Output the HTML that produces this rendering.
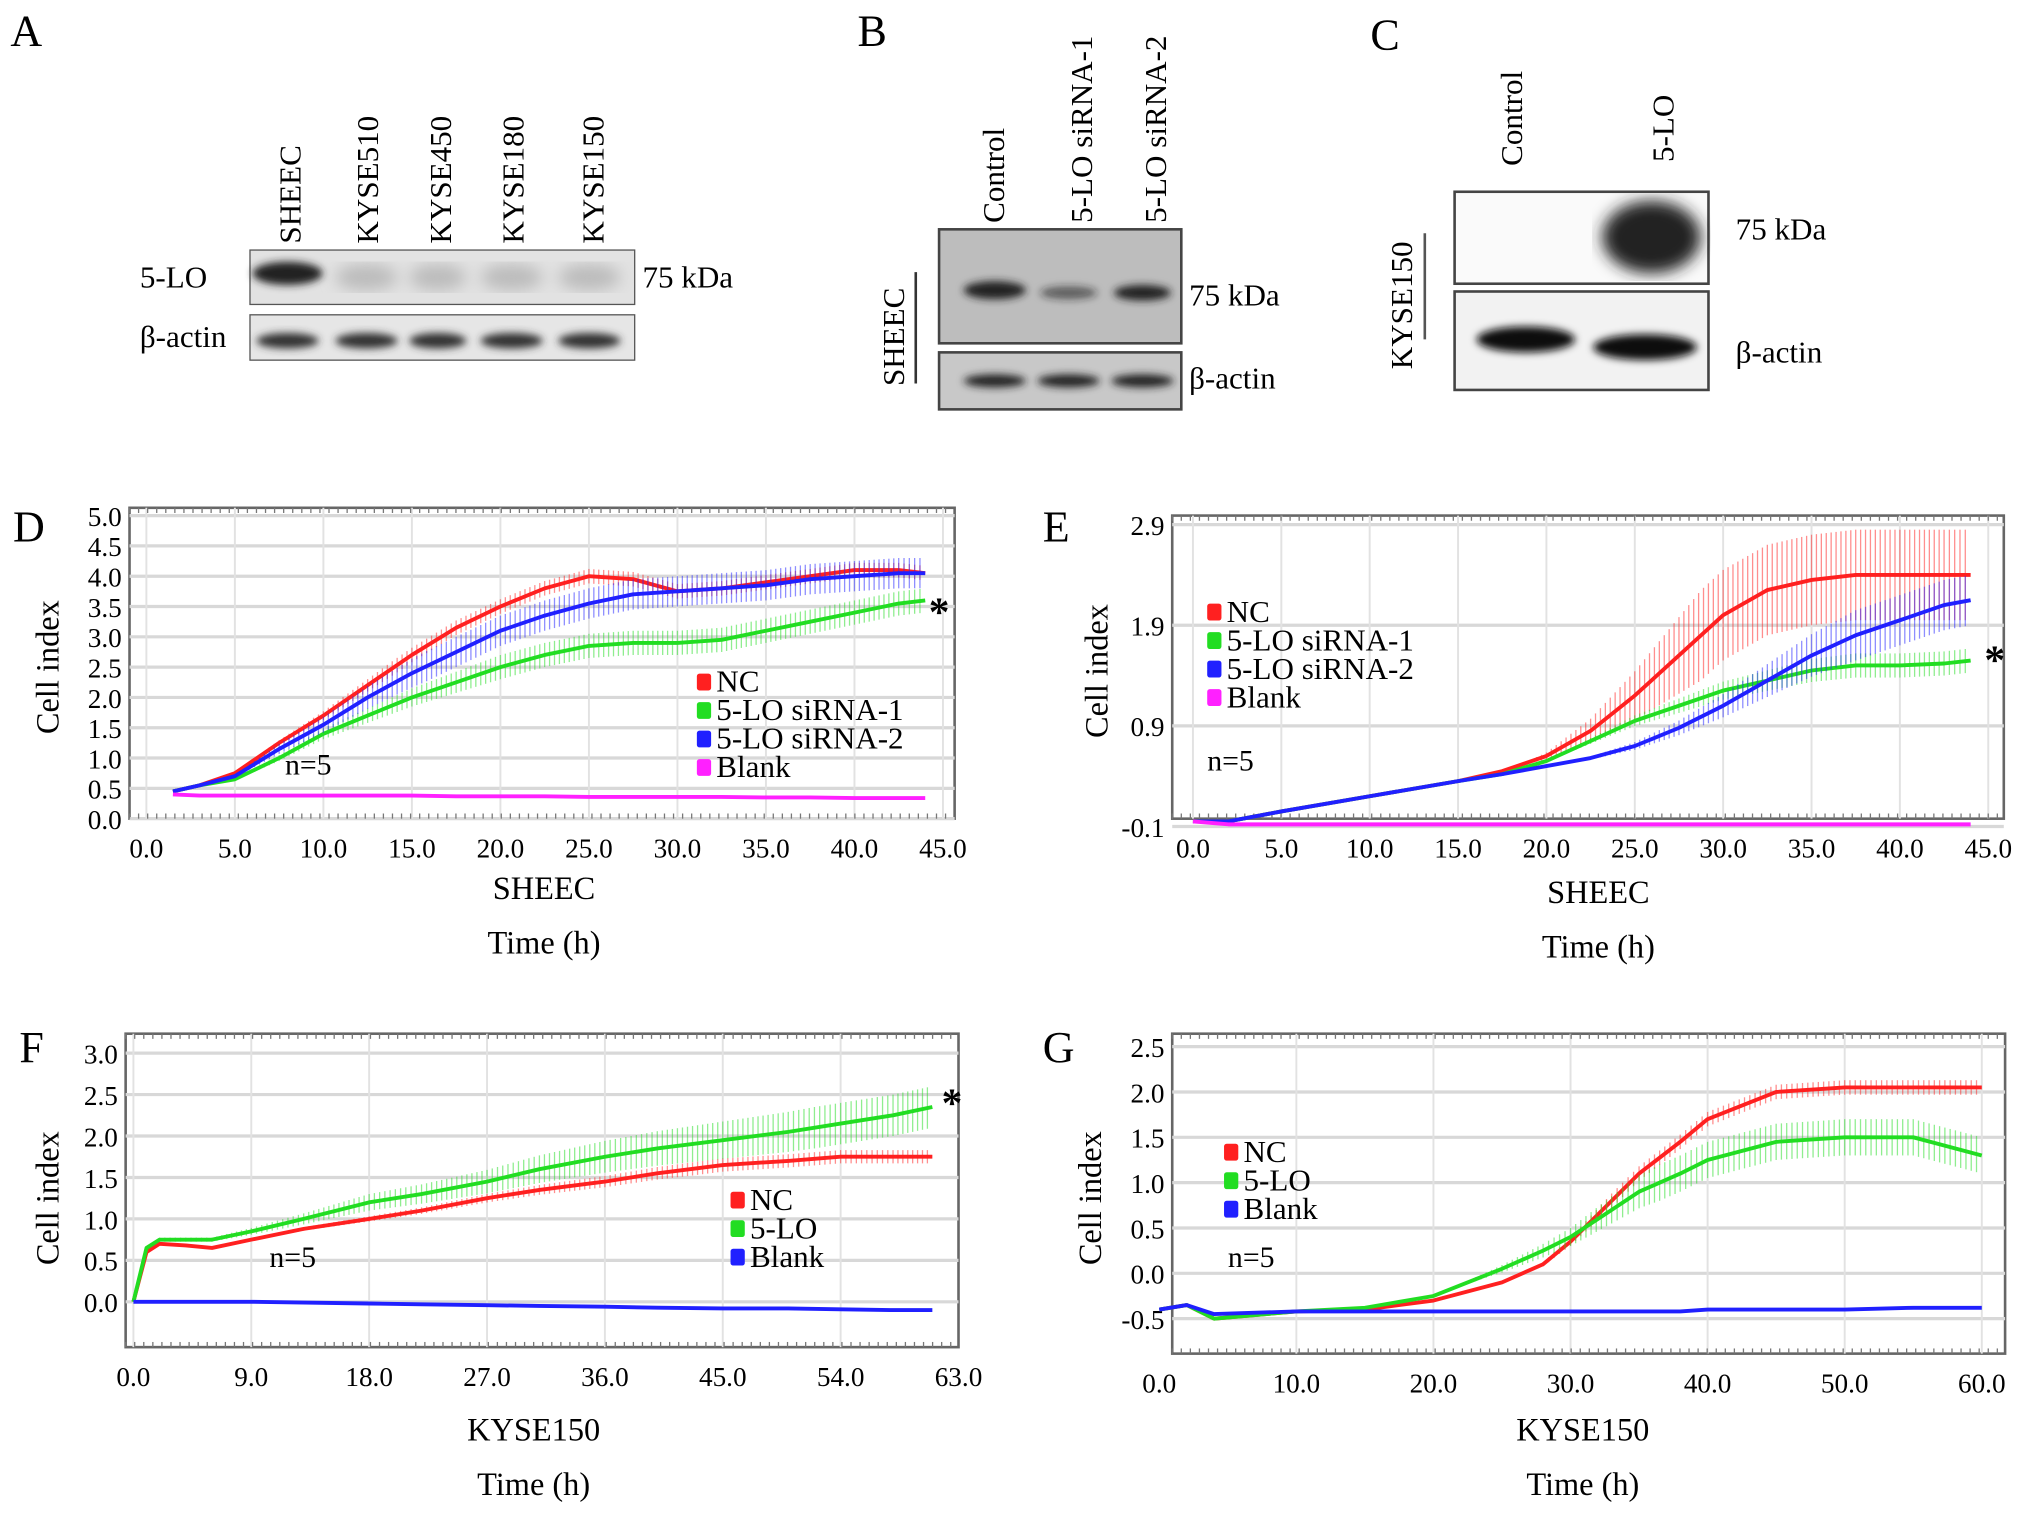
<!DOCTYPE html>
<html><head><meta charset="utf-8"><style>
html,body{margin:0;padding:0;background:#fff;}
svg{display:block;font-family:"Liberation Serif",serif;}
</style></head><body>
<svg id="fig" width="2031" height="1513" viewBox="0 0 1568 1168" xmlns="http://www.w3.org/2000/svg">
<defs>
<filter id="blur" x="-20%" y="-50%" width="140%" height="200%"><feGaussianBlur stdDeviation="3"/></filter>
<filter id="blur2"><feGaussianBlur stdDeviation="6"/></filter>
</defs>
<!-- Panel A -->
<g>
<text x="8" y="35" font-size="34">A</text>
<g font-size="24">
<text transform="translate(232,188) rotate(-90)">SHEEC</text>
<text transform="translate(292,188) rotate(-90)">KYSE510</text>
<text transform="translate(348,188) rotate(-90)">KYSE450</text>
<text transform="translate(404,188) rotate(-90)">KYSE180</text>
<text transform="translate(466,188) rotate(-90)">KYSE150</text>
<text x="108" y="222">5-LO</text>
<text x="108" y="268">β-actin</text>
<text x="496" y="222">75 kDa</text>
</g>
<rect x="193" y="193" width="297" height="42" fill="#e2e2e2" stroke="#555"/>
<rect x="193" y="243" width="297" height="35" fill="#e6e6e6" stroke="#555"/>
<ellipse cx="222" cy="211" rx="27" ry="9" fill="#222" filter="url(#blur)"/>
<g fill="#bbb" filter="url(#blur2)"><ellipse cx="283" cy="214" rx="24" ry="10"/><ellipse cx="338" cy="214" rx="22" ry="10"/><ellipse cx="395" cy="214" rx="24" ry="10"/><ellipse cx="455" cy="214" rx="24" ry="10"/></g>
<g fill="#333" filter="url(#blur)">
<ellipse cx="222" cy="263" rx="24" ry="6"/><ellipse cx="283" cy="263" rx="24" ry="6"/><ellipse cx="338" cy="263" rx="22" ry="6"/><ellipse cx="395" cy="263" rx="24" ry="6"/><ellipse cx="455" cy="263" rx="24" ry="6"/>
</g>
</g>
<!-- Panel B -->
<g>
<text x="662" y="35" font-size="34">B</text>
<g font-size="24">
<text transform="translate(775,172) rotate(-90)">Control</text>
<text transform="translate(843,172) rotate(-90)">5-LO siRNA-1</text>
<text transform="translate(900,172) rotate(-90)">5-LO siRNA-2</text>
<text transform="translate(698,298) rotate(-90)">SHEEC</text>
<text x="918" y="236">75 kDa</text>
<text x="918" y="300">β-actin</text>
</g>
<line x1="707" y1="210" x2="707" y2="296" stroke="#333" stroke-width="2"/>
<rect x="725" y="177" width="187" height="88" fill="#bdbdbd" stroke="#444" stroke-width="2"/>
<rect x="725" y="272" width="187" height="44" fill="#c8c8c8" stroke="#444" stroke-width="2"/>
<g fill="#222" filter="url(#blur)"><ellipse cx="768" cy="224" rx="24" ry="7"/><ellipse cx="825" cy="226" rx="22" ry="5" opacity=".6"/><ellipse cx="882" cy="226" rx="22" ry="6"/>
<ellipse cx="768" cy="294" rx="24" ry="5"/><ellipse cx="825" cy="294" rx="24" ry="5"/><ellipse cx="882" cy="294" rx="24" ry="5"/></g>
</g>
<!-- Panel C -->
<g>
<text x="1058" y="38" font-size="34">C</text>
<g font-size="24">
<text transform="translate(1175,128) rotate(-90)">Control</text>
<text transform="translate(1292,125) rotate(-90)">5-LO</text>
<text transform="translate(1090,285) rotate(-90)">KYSE150</text>
<text x="1340" y="185">75 kDa</text>
<text x="1340" y="280">β-actin</text>
</g>
<line x1="1100" y1="180" x2="1100" y2="262" stroke="#555" stroke-width="2"/>
<rect x="1123" y="148" width="196" height="71" fill="#fafafa" stroke="#444" stroke-width="2"/>
<rect x="1123" y="225" width="196" height="76" fill="#f2f2f2" stroke="#444" stroke-width="2"/>
<ellipse cx="1275" cy="183" rx="38" ry="28" fill="#222" filter="url(#blur2)"/>
<g fill="#111" filter="url(#blur)"><ellipse cx="1178" cy="262" rx="38" ry="10"/><ellipse cx="1270" cy="268" rx="40" ry="10"/></g>
</g>
<g id="charts"></g>
</svg>
<script>
// ---------- Panel D data ----------
const dTimes = [1.5, 3, 5, 7.5, 10, 12.5, 15, 17.5, 20, 22.5, 25, 27.5, 30, 32.5, 35, 37.5, 40, 42.5, 44];
const dNC    = [0.45,0.55,0.75,1.25,1.7,2.2,2.7,3.15,3.5,3.8,4.0,3.95,3.75,3.8,3.9,4.0,4.1,4.1,4.05];
const dSi1   = [0.45,0.55,0.65,1.0,1.4,1.7,2.0,2.25,2.5,2.7,2.85,2.9,2.9,2.95,3.1,3.25,3.4,3.55,3.6];
const dSi2   = [0.45,0.55,0.7,1.15,1.55,2.0,2.4,2.75,3.1,3.35,3.55,3.7,3.75,3.8,3.85,3.95,4.0,4.05,4.05];
const dBlank = [0.4,0.38,0.38,0.38,0.38,0.38,0.38,0.37,0.37,0.37,0.36,0.36,0.36,0.36,0.35,0.35,0.34,0.34,0.34];
const dYTicks = ["0.0","0.5","1.0","1.5","2.0","2.5","3.0","3.5","4.0","4.5","5.0"];
const dXTicks = ["0.0","5.0","10.0","15.0","20.0","25.0","30.0","35.0","40.0","45.0"];
// ---------- Panel E data ----------
const eTimes = [0, 2, 5, 10, 15, 17.5, 20, 22.5, 25, 27.5, 30, 32.5, 35, 37.5, 40, 42.5, 44];
const eNC    = [-0.05,-0.05,0.05,0.2,0.35,0.45,0.6,0.85,1.2,1.6,2.0,2.25,2.35,2.4,2.4,2.4,2.4];
const eSi1   = [-0.05,-0.05,0.05,0.2,0.35,0.42,0.55,0.75,0.95,1.1,1.25,1.35,1.45,1.5,1.5,1.52,1.55];
const eSi2   = [-0.05,-0.05,0.05,0.2,0.35,0.42,0.5,0.58,0.7,0.88,1.1,1.35,1.6,1.8,1.95,2.1,2.15];
const eBlank = [-0.05,-0.08,-0.08,-0.08,-0.08,-0.08,-0.08,-0.08,-0.08,-0.08,-0.08,-0.08,-0.08,-0.08,-0.08,-0.08,-0.08];
const eYTicks = ["-0.1","0.9","1.9","2.9"];
const eXTicks = ["0.0","5.0","10.0","15.0","20.0","25.0","30.0","35.0","40.0","45.0"];
// ---------- Panel F data ----------
const fTimes = [0, 1, 2, 4, 6, 9, 13, 18, 22, 27, 31, 36, 40, 45, 50, 54, 58, 61];
const fNC    = [0,0.6,0.7,0.68,0.65,0.75,0.88,1.0,1.1,1.25,1.35,1.45,1.55,1.65,1.7,1.75,1.75,1.75];
const fLO    = [0,0.65,0.75,0.75,0.75,0.85,1.0,1.2,1.3,1.45,1.6,1.75,1.85,1.95,2.05,2.15,2.25,2.35];
const fBlank = [0,0,0,0,0,0,-0.01,-0.02,-0.03,-0.04,-0.05,-0.06,-0.07,-0.08,-0.08,-0.09,-0.1,-0.1];
const fYTicks = ["0.0","0.5","1.0","1.5","2.0","2.5","3.0"];
const fXTicks = ["0.0","9.0","18.0","27.0","36.0","45.0","54.0","63.0"];
// ---------- Panel G data ----------
const gTimes = [0, 2, 4, 10, 15, 20, 25, 28, 30, 33, 35, 38, 40, 45, 50, 55, 60];
const gNC    = [-0.4,-0.35,-0.5,-0.42,-0.4,-0.3,-0.1,0.1,0.35,0.8,1.1,1.45,1.7,2.0,2.05,2.05,2.05];
const gLO    = [-0.4,-0.35,-0.5,-0.42,-0.38,-0.25,0.05,0.25,0.4,0.7,0.9,1.1,1.25,1.45,1.5,1.5,1.3];
const gBlank = [-0.4,-0.35,-0.45,-0.42,-0.42,-0.42,-0.42,-0.42,-0.42,-0.42,-0.42,-0.42,-0.4,-0.4,-0.4,-0.38,-0.38];
const gYTicks = ["-0.5","0.0","0.5","1.0","1.5","2.0","2.5"];
const gXTicks = ["0.0","10.0","20.0","30.0","40.0","50.0","60.0"];

const NS = "http://www.w3.org/2000/svg";
const root = document.getElementById("charts");
function mk(tag, attrs, parent){const e=document.createElementNS(NS,tag);for(const k in attrs)e.setAttribute(k,attrs[k]);(parent||root).appendChild(e);return e;}

function chart(cfg){
  const g = mk("g",{});
  
  
  const sx = t => cfg.x0 + (t - cfg.xmin) / (cfg.xmax - cfg.xmin) * (cfg.x1 - cfg.x0);
  const sy = v => cfg.y0 + (v - cfg.ymin) / (cfg.ymax - cfg.ymin) * (cfg.y1 - cfg.y0);
  mk("rect",{x:cfg.bx0,y:cfg.by0,width:cfg.bx1-cfg.bx0,height:cfg.by1-cfg.by0,fill:"#fff",stroke:"#666","stroke-width":2},g);
  cfg.yt.forEach(s=>{const y=sy(parseFloat(s));
    const gl=mk("line",{x1:cfg.bx0,x2:cfg.bx1,y1:y,y2:y,stroke:"#d8d8d8","stroke-width":2.5},g);
    
    const t=mk("text",{x:cfg.bx0-6,y:y+8,"text-anchor":"end","font-size":21},g);t.textContent=s;
    
  });
  cfg.xt.forEach(s=>{const x=sx(parseFloat(s));
    if(x>cfg.bx0+3&&x<cfg.bx1-3){mk("line",{x1:x,x2:x,y1:cfg.by0,y2:cfg.by1,stroke:"#e2e2e2","stroke-width":1.5},g);}
    const t=mk("text",{x:x,y:cfg.by1+30,"text-anchor":"middle","font-size":21},g);t.textContent=s;
    
  });
  for(let x=cfg.bx0;x<cfg.bx1;x+=7){mk("line",{x1:x,x2:x,y1:cfg.by1,y2:cfg.by1-4,stroke:"#777","stroke-width":1},g);mk("line",{x1:x,x2:x,y1:cfg.by0,y2:cfg.by0+4,stroke:"#777","stroke-width":1},g);}
  cfg.series.forEach(s=>{
    const sg=mk("g",{},g);
    
    
    if(s.err){
      for(let i=0;i<cfg.times.length-1;i++){
        const n=Math.max(2,Math.round((sx(cfg.times[i+1])-sx(cfg.times[i]))/4));
        for(let k=0;k<n;k++){
          const f=k/n, t=cfg.times[i]+(cfg.times[i+1]-cfg.times[i])*f, v=s.vals[i]+(s.vals[i+1]-s.vals[i])*f;
          const e=s.err*Math.min(1,Math.max(0,v-cfg.errBase)/s.errScale);
          if(e<0.02)continue;
          mk("line",{x1:sx(t),x2:sx(t),y1:sy(v-e),y2:sy(v+e),stroke:s.color,"stroke-width":1,opacity:0.5},sg);
        }
      }
    }
    const pts=cfg.times.map((t,i)=>sx(t).toFixed(1)+","+sy(s.vals[i]).toFixed(1)).join(" ");
    mk("polyline",{points:pts,fill:"none",stroke:s.color,"stroke-width":3,"stroke-linejoin":"round"},sg);
  });
  cfg.legend.items.forEach((it,i)=>{
    const y=cfg.legend.y+i*cfg.legend.dy;
    const r=mk("rect",{x:cfg.legend.x,y:y-12,width:11,height:13,fill:it[1],rx:2},g);
    
    const t=mk("text",{x:cfg.legend.x+15,y:y+2,"font-size":24},g);t.textContent=it[0];
    
  });
  const n=mk("text",{x:cfg.n[0],y:cfg.n[1],"font-size":23},g);n.textContent="n=5";
  
  if(cfg.star){const st=mk("text",{x:cfg.star[0],y:cfg.star[1],"font-size":32,"font-weight":"bold"},g);st.textContent="*";
    }
  const yl=mk("text",{transform:`translate(${cfg.ylab[0]},${cfg.ylab[1]}) rotate(-90)`,"text-anchor":"middle","font-size":25},g);yl.textContent="Cell index";
  
  const cl=mk("text",{x:cfg.cell[0],y:cfg.cell[1],"text-anchor":"middle","font-size":25},g);cl.textContent=cfg.cellName;
  
  const xl=mk("text",{x:cfg.cell[0],y:cfg.cell[1]+42,"text-anchor":"middle","font-size":25},g);xl.textContent="Time (h)";
  
  const pl=mk("text",{x:cfg.plabel[0],y:cfg.plabel[1],"font-size":34},g);pl.textContent=cfg.letter;
  
}

chart({name:"chart-d",letter:"D",plabel:[10,418],times:dTimes,xmin:0,xmax:45,x0:113,x1:728,ymin:0,ymax:5,y0:632,y1:398,
  bx0:100,bx1:737,by0:392,by1:632,yt:dYTicks,xt:dXTicks,errBase:0.5,
  series:[{name:"series-nc",vals:dNC,color:"#ff2020",err:0.12,errScale:2},
          {name:"series-sirna-1",vals:dSi1,color:"#22dd22",err:0.2,errScale:2},
          {name:"series-sirna-2",vals:dSi2,color:"#2020ff",err:0.25,errScale:2},
          {name:"series-blank",vals:dBlank,color:"#ff20ff"}],
  legend:{x:538,y:532,dy:22,items:[["NC","#ff2020"],["5-LO siRNA-1","#22dd22"],["5-LO siRNA-2","#2020ff"],["Blank","#ff20ff"]]},
  n:[220,598],star:[717,483],ylab:[45,515],cell:[420,694],cellName:"SHEEC"});

chart({name:"chart-e",letter:"E",plabel:[805,418],times:eTimes,xmin:0,xmax:45,x0:921,x1:1535,ymin:-0.1,ymax:2.9,y0:638,y1:405,
  bx0:905,bx1:1547,by0:398,by1:632,yt:eYTicks,xt:eXTicks,errBase:0.5,
  series:[{name:"series-nc",vals:eNC,color:"#ff2020",err:0.45,errScale:1.3},
          {name:"series-sirna-1",vals:eSi1,color:"#22dd22",err:0.12,errScale:1},
          {name:"series-sirna-2",vals:eSi2,color:"#2020ff",err:0.25,errScale:1.3},
          {name:"series-blank",vals:eBlank,color:"#ff20ff"}],
  legend:{x:932,y:478,dy:22,items:[["NC","#ff2020"],["5-LO siRNA-1","#22dd22"],["5-LO siRNA-2","#2020ff"],["Blank","#ff20ff"]]},
  n:[932,595],star:[1532,520],ylab:[855,518],cell:[1234,697],cellName:"SHEEC"});

chart({name:"chart-f",letter:"F",plabel:[15,820],times:fTimes,xmin:0,xmax:63,x0:103,x1:740,ymin:0,ymax:3,y0:1005,y1:813,
  bx0:97,bx1:740,by0:798,by1:1040,yt:fYTicks,xt:fXTicks,errBase:0.6,
  series:[{name:"series-nc",vals:fNC,color:"#ff2020",err:0.08,errScale:1},
          {name:"series-5lo",vals:fLO,color:"#22dd22",err:0.25,errScale:1.5},
          {name:"series-blank",vals:fBlank,color:"#2020ff"}],
  legend:{x:564,y:932,dy:22,items:[["NC","#ff2020"],["5-LO","#22dd22"],["Blank","#2020ff"]]},
  n:[208,978],star:[727,862],ylab:[45,925],cell:[412,1112],cellName:"KYSE150"});

chart({name:"chart-g",letter:"G",plabel:[805,820],times:gTimes,xmin:0,xmax:60,x0:895,x1:1530,ymin:-0.5,ymax:2.5,y0:1018,y1:808,
  bx0:905,bx1:1548,by0:798,by1:1045,yt:gYTicks,xt:gXTicks,errBase:-0.2,
  series:[{name:"series-nc",vals:gNC,color:"#ff2020",err:0.08,errScale:1},
          {name:"series-5lo",vals:gLO,color:"#22dd22",err:0.2,errScale:1.2},
          {name:"series-blank",vals:gBlank,color:"#2020ff"}],
  legend:{x:945,y:895,dy:22,items:[["NC","#ff2020"],["5-LO","#22dd22"],["Blank","#2020ff"]]},
  n:[948,978],ylab:[850,925],cell:[1222,1112],cellName:"KYSE150"});
</script>
</body></html>
